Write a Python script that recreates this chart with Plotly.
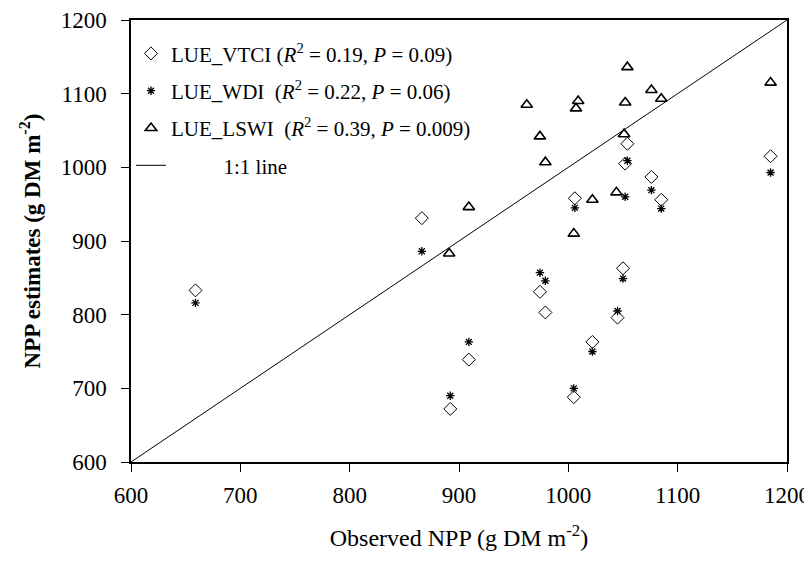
import plotly.graph_objects as go

# observed NPP (g DM m-2) shared by VTCI and WDI estimates
obs = [659, 866, 892, 909, 974, 979, 1005, 1006, 1022, 1045, 1050, 1052, 1054, 1076, 1085, 1185]
lue_vtci = [833, 931, 672, 739, 831, 803, 688, 958, 763, 796, 863, 1005, 1032, 987, 956, 1015]
lue_wdi = [816, 886, 690, 763, 857, 846, 700, 945, 750, 805, 849, 960, 1009, 969, 944, 993]

# LSWI points as they appear in the figure
obs_lswi = [891, 909, 962, 974, 979, 1005, 1007, 1009, 1022, 1044, 1051, 1052, 1054, 1076, 1085, 1185]
lue_lswi = [883, 946, 1085, 1042, 1007, 910, 1080, 1090, 956, 966, 1045, 1088, 1136, 1105, 1093, 1115]

axis_range = [600, 1200]
tick_vals = [600, 700, 800, 900, 1000, 1100, 1200]

font_family = "Liberation Serif, Times New Roman, serif"

fig = go.Figure()

fig.add_trace(go.Scatter(
    x=obs, y=lue_vtci, mode="markers",
    name="LUE_VTCI (<i>R</i><sup>2</sup> = 0.19, <i>P</i> = 0.09)",
    legendgroup="a",
    marker=dict(symbol="diamond-open", size=10, color="black", line=dict(width=1))
))
fig.add_trace(go.Scatter(
    x=obs, y=lue_wdi, mode="markers",
    name="LUE_WDI&nbsp; (<i>R</i><sup>2</sup> = 0.22, <i>P</i> = 0.06)",
    legendgroup="b",
    marker=dict(symbol="asterisk-open", size=7, color="black", line=dict(width=1.3))
))
fig.add_trace(go.Scatter(
    x=obs_lswi, y=lue_lswi, mode="markers",
    name="LUE_LSWI&nbsp; (<i>R</i><sup>2</sup> = 0.39, <i>P</i> = 0.009)",
    legendgroup="c",
    marker=dict(symbol="triangle-up-open", size=10, color="black", line=dict(width=1.6))
))
# 1:1 reference line
fig.add_trace(go.Scatter(
    x=axis_range, y=axis_range, mode="lines",
    name="&nbsp;" * 10 + "1:1 line", legendgroup="d",
    line=dict(color="black", width=1)
))

# the page body has an 8px margin, so the figure is shifted by 8px
fig.update_layout(
    width=812, height=545,
    margin=dict(l=123, r=33, t=12, b=91),
    paper_bgcolor="white", plot_bgcolor="white",
    font=dict(family=font_family, size=23, color="black"),
    showlegend=True,
    legend=dict(
        x=0.0, y=0.97, xanchor="left", yanchor="top",
        bgcolor="rgba(0,0,0,0)", borderwidth=0,
        font=dict(family=font_family, size=21),
        tracegroupgap=7, itemwidth=30,
    ),
    xaxis=dict(
        range=axis_range, tickvals=tick_vals,
        showline=True, linecolor="black", linewidth=1.5, mirror=True,
        ticks="outside", ticklen=8, tickcolor="black", tickwidth=1.2,
        ticklabelstandoff=4,
        showgrid=False, zeroline=False,
        title=dict(text="Observed NPP (g DM m<sup>-2</sup>)", standoff=22,
                   font=dict(family=font_family, size=24)),
        automargin=False,
    ),
    yaxis=dict(
        range=axis_range, tickvals=tick_vals,
        showline=True, linecolor="black", linewidth=1.5, mirror=True,
        ticks="outside", ticklen=8, tickcolor="black", tickwidth=1.2,
        ticklabelstandoff=10,
        showgrid=False, zeroline=False,
        title=dict(text="<b>NPP estimates (g DM m<sup>-2</sup>)</b>", standoff=14,
                   font=dict(family=font_family, size=23)),
        automargin=False,
    ),
)

fig.write_html("out.html")
